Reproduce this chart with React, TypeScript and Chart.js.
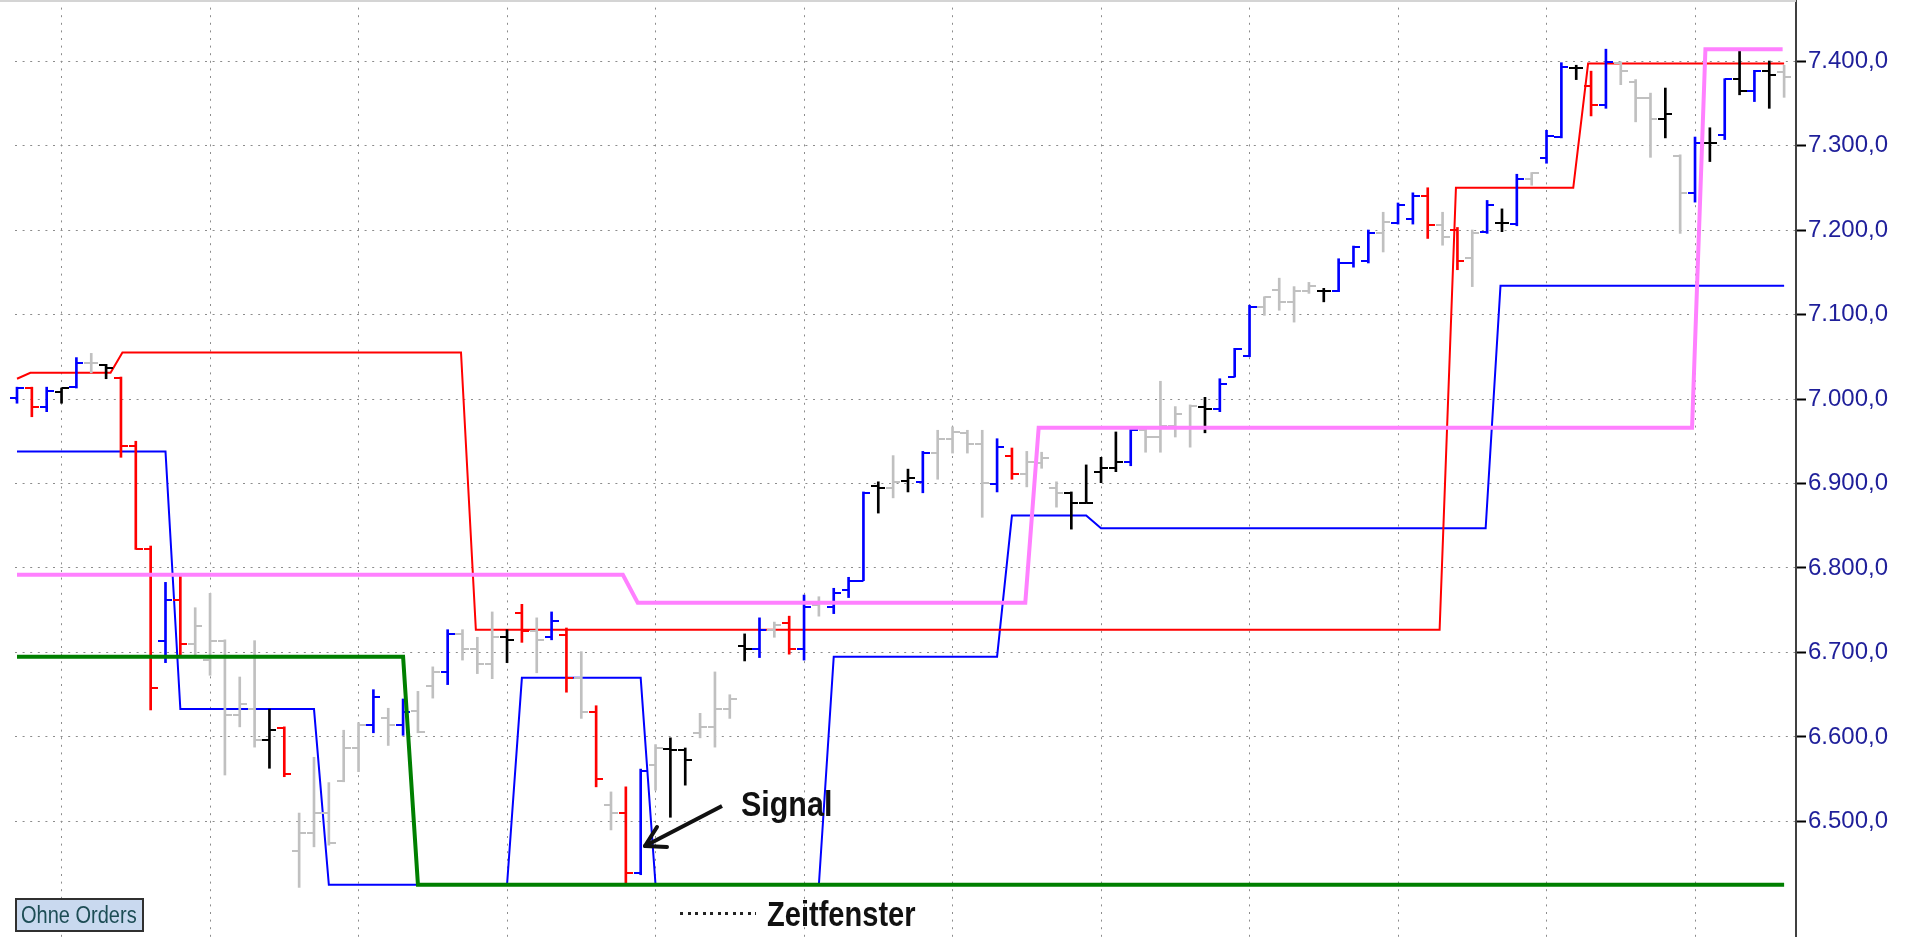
import React, { useEffect, useRef } from 'react';
import { Chart, registerables } from 'chart.js';

Chart.register(...registerables);

// ---- OHLC data (one entry per bar) ----
// colour codes: b = blue, r = red, k = black, g = light grey
const barColorCodes = [
  'b','r','b','k','b','g','k','r','r','r',
  'b','r','g','g','g','g','g','k','r','g',
  'g','g','g','g','b','g','b','g','g','b',
  'g','g','g','k','r','g','b','r','g','r',
  'g','r','b','g','k','k','g','g','g','k',
  'b','g','r','b','g','b','b','b','k','g',
  'k','b','g','g','g','g','b','r','g','g',
  'g','k','k','k','k','b','g','g','g','g',
  'k','b','b','b','g','g','g','g','k','b',
  'b','b','g','b','b','r','g','r','g','b',
  'k','b','g','b','b','k','r','b','g','g',
  'g','k','g','b','k','b','k','b','k','g',
];

const opens = [
  7001, 7013, 6991, 7008, 7014, 7043, 7040, 7025, 6944, 6822,
  6714, 6762, 6710, 6691, 6714, 6626, 6633, 6596, 6611, 6465,
  6486, 6510, 6548, 6587, 6614, 6622, 6614, 6631, 6660, 6677,
  6722, 6704, 6686, 6718, 6747, 6725, 6718, 6721, 6670, 6630,
  6520, 6510, 6439, 6567, 6586, 6585, 6605, 6612, 6633, 6708,
  6704, 6727, 6735, 6704, 6756, 6754, 6774, 6785, 6897, 6895,
  6903, 6902, 6936, 6953, 6960, 6947, 6899, 6933, 6911, 6924,
  6895, 6889, 6877, 6914, 6918, 6925, 6963, 6955, 6968, 6967,
  6991, 6988, 7026, 7051, 7109, 7129, 7115, 7128, 7128, 7128,
  7161, 7163, 7196, 7208, 7213, 7240, 7206, 7200, 7167, 7198,
  7208, 7207, 7260, 7285, 7310, 7392, 7370, 7348, 7398, 7375,
  7356, 7331, 7288, 7244, 7303, 7312, 7379, 7365, 7388, 7387,
];

const highs = [
  7014, 7014, 7014, 7013, 7049, 7054, 7041, 7026, 6950, 6826,
  6783, 6792, 6753, 6770, 6715, 6671, 6714, 6633, 6612, 6510,
  6576, 6546, 6608, 6617, 6656, 6634, 6645, 6654, 6683, 6727,
  6727, 6718, 6748, 6727, 6757, 6741, 6748, 6729, 6701, 6637,
  6535, 6541, 6562, 6591, 6599, 6587, 6628, 6677, 6650, 6722,
  6741, 6736, 6743, 6768, 6766, 6776, 6789, 6890, 6902, 6933,
  6917, 6938, 6963, 6967, 6963, 6963, 6953, 6942, 6938, 6937,
  6902, 6890, 6922, 6931, 6961, 6967, 6965, 7021, 6991, 6993,
  7002, 7024, 7060, 7111, 7121, 7143, 7133, 7138, 7131, 7166,
  7181, 7200, 7221, 7232, 7244, 7250, 7221, 7203, 7200, 7235,
  7225, 7266, 7268, 7318, 7398, 7395, 7388, 7414, 7399, 7378,
  7362, 7368, 7289, 7310, 7321, 7379, 7414, 7389, 7400, 7395,
];

const lows = [
  6995, 6979, 6985, 6995, 7013, 7031, 7024, 6931, 6822, 6632,
  6688, 6695, 6694, 6673, 6555, 6612, 6588, 6563, 6553, 6422,
  6470, 6472, 6547, 6559, 6605, 6590, 6602, 6605, 6646, 6662,
  6691, 6675, 6669, 6688, 6712, 6676, 6715, 6653, 6622, 6541,
  6490, 6425, 6437, 6537, 6505, 6543, 6599, 6588, 6622, 6690,
  6694, 6718, 6698, 6691, 6743, 6746, 6765, 6785, 6865, 6883,
  6890, 6889, 6905, 6936, 6936, 6860, 6890, 6905, 6896, 6918,
  6872, 6846, 6877, 6901, 6914, 6921, 6937, 6937, 6955, 6943,
  6960, 6985, 7026, 7050, 7099, 7105, 7091, 7125, 7115, 7127,
  7156, 7161, 7174, 7207, 7207, 7190, 7182, 7153, 7133, 7196,
  7198, 7205, 7253, 7279, 7309, 7378, 7335, 7344, 7372, 7328,
  7286, 7309, 7196, 7233, 7281, 7307, 7360, 7352, 7344, 7357,
];

const closes = [
  7013, 6991, 7009, 7013, 7043, 7043, 7037, 6944, 6822, 6658,
  6762, 6710, 6731, 6714, 6626, 6639, 6596, 6608, 6556, 6486,
  6510, 6475, 6587, 6614, 6647, 6614, 6630, 6606, 6677, 6722,
  6704, 6686, 6718, 6715, 6725, 6715, 6737, 6670, 6630, 6550,
  6510, 6439, 6560, 6587, 6585, 6573, 6612, 6633, 6645, 6704,
  6727, 6733, 6704, 6754, 6759, 6770, 6785, 6889, 6895, 6902,
  6907, 6936, 6953, 6961, 6947, 6901, 6943, 6911, 6925, 6930,
  6889, 6877, 6877, 6918, 6925, 6963, 6955, 6968, 6982, 6992,
  6988, 7018, 7059, 7109, 7121, 7115, 7128, 7134, 7128, 7161,
  7180, 7196, 7209, 7230, 7240, 7206, 7192, 7163, 7196, 7230,
  7208, 7260, 7268, 7311, 7393, 7392, 7348, 7399, 7388, 7356,
  7331, 7337, 7244, 7303, 7303, 7379, 7365, 7388, 7383, 7381,
];

// ---- indicator lines (breakpoints: bar index, value) ----
const redLineX = [0, 0.9, 6.3, 7.1, 29.9, 30.9, 95.8, 96.9, 104.8, 105.8, 119];
const redLineY = [7024, 7031, 7031, 7055, 7055, 6727, 6727, 7250, 7250, 7397, 7397];

const blueLineX = [0, 10, 11, 20, 21, 33, 34, 42, 43, 54, 55, 66, 67, 72, 73, 98.9, 99.9, 119];
const blueLineY = [6938, 6938, 6633, 6633, 6425, 6425, 6670, 6670, 6425, 6425, 6695, 6695, 6862, 6862, 6847, 6847, 7134, 7134];

const pinkLineX = [0, 40.8, 41.8, 67.9, 68.8, 112.8, 113.7, 118.9];
const pinkLineY = [6792, 6792, 6759, 6759, 6966, 6966, 7414, 7414];

const greenLineX = [0, 26, 27, 119];
const greenLineY = [6695, 6695, 6425, 6425];

// ---- axes ----
const yTickValues = [6500, 6600, 6700, 6800, 6900, 7000, 7100, 7200, 7300, 7400];
const xGridIndex = [3, 13, 23, 33, 43, 53, 63, 73, 83, 93, 103, 113];
const yMin = 6363.3;
const yMax = 7472.2;
const xMin = -0.1347;
const xMax = 119.8;

const colorMap: Record<string, string> = {
  b: '#0000ff',
  r: '#ff0000',
  k: '#000000',
  g: '#c0c0c0',
};

function formatPrice(v: number): string {
  const s = String(Math.round(v));
  return s.slice(0, -3) + '.' + s.slice(-3) + ',0';
}

function makeTick(color: string, side: 'left' | 'right'): HTMLCanvasElement {
  const L = 7;
  const c = document.createElement('canvas');
  c.width = L * 2;
  c.height = 2;
  const ctx = c.getContext('2d')!;
  ctx.fillStyle = color;
  ctx.fillRect(side === 'left' ? 0 : L, 0, L, 2);
  return c;
}

const toPts = (xs: number[], ys: number[]) => xs.map((x, i) => ({ x, y: ys[i] }));

export default function App() {
  const ref = useRef<HTMLCanvasElement>(null);

  useEffect(() => {
    const canvas = ref.current;
    if (!canvas) return;
    const leftImgs: Record<string, HTMLCanvasElement> = {};
    const rightImgs: Record<string, HTMLCanvasElement> = {};
    Object.keys(colorMap).forEach((k) => {
      leftImgs[k] = makeTick(colorMap[k], 'left');
      rightImgs[k] = makeTick(colorMap[k], 'right');
    });
    const idx = opens.map((_, i) => i);
    const barColors = barColorCodes.map((c) => colorMap[c]);

    const chart = new Chart(canvas, {
      type: 'scatter',
      data: {
        datasets: [
          {
            type: 'line',
            label: 'pink',
            data: toPts(pinkLineX, pinkLineY),
            borderColor: '#ff80ff',
            borderWidth: 4,
            pointRadius: 0,
            showLine: true,
            tension: 0,
            order: 0,
          } as any,
          {
            type: 'line',
            label: 'green',
            data: toPts(greenLineX, greenLineY),
            borderColor: '#007f00',
            borderWidth: 4,
            pointRadius: 0,
            showLine: true,
            tension: 0,
            order: 1,
          } as any,
          {
            type: 'bar',
            label: 'hl',
            data: idx.map((i) => ({ x: i, y: [lows[i], highs[i]] })),
            backgroundColor: barColors,
            borderWidth: 0,
            barThickness: 2,
            order: 2,
          } as any,
          {
            type: 'scatter',
            label: 'open',
            data: idx.map((i) => ({ x: i, y: opens[i] })),
            pointStyle: barColorCodes.map((c) => leftImgs[c]),
            pointRadius: 7,
            clip: false,
            order: 2,
          } as any,
          {
            type: 'scatter',
            label: 'close',
            data: idx.map((i) => ({ x: i, y: closes[i] })),
            pointStyle: barColorCodes.map((c) => rightImgs[c]),
            pointRadius: 7,
            clip: false,
            order: 2,
          } as any,
          {
            type: 'line',
            label: 'red',
            data: toPts(redLineX, redLineY),
            borderColor: '#ff0000',
            borderWidth: 2,
            pointRadius: 0,
            showLine: true,
            tension: 0,
            order: 4,
          } as any,
          {
            type: 'line',
            label: 'blue',
            data: toPts(blueLineX, blueLineY),
            borderColor: '#0000ff',
            borderWidth: 2,
            pointRadius: 0,
            showLine: true,
            tension: 0,
            order: 5,
          } as any,
        ],
      },
      options: {
        responsive: false,
        devicePixelRatio: 1,
        animation: false,
        events: [],
        layout: { autoPadding: false, padding: { left: 15, right: 0, top: 0, bottom: 0 } },
        plugins: { legend: { display: false }, tooltip: { enabled: false } },
        scales: {
          x: {
            type: 'linear',
            min: xMin,
            max: xMax,
            offset: false,
            afterBuildTicks: (s: any) => {
              s.ticks = xGridIndex.map((v) => ({ value: v }));
            },
            afterFit: (s: any) => {
              s.height = 0;
              s.paddingLeft = 0;
              s.paddingRight = 0;
              s.paddingTop = 0;
              s.paddingBottom = 0;
            },
            grid: { color: '#8c8c8c', lineWidth: 1, drawTicks: false, offset: false },
            border: { display: false, dash: [2, 5.6] },
            ticks: { display: false },
          },
          y: {
            type: 'linear',
            position: 'right',
            min: yMin,
            max: yMax,
            offset: false,
            afterBuildTicks: (s: any) => {
              s.ticks = yTickValues.map((v) => ({ value: v }));
            },
            afterFit: (s: any) => {
              s.width = 115;
              s.paddingTop = 0;
              s.paddingBottom = 0;
              s.paddingLeft = 0;
              s.paddingRight = 0;
            },
            grid: {
              color: '#8c8c8c',
              lineWidth: 1,
              drawTicks: true,
              tickLength: 10,
              tickColor: '#000000',
              tickWidth: 2,
              offset: false,
            },
            border: { display: true, color: '#404040', width: 2, dash: [2, 5.6] },
            ticks: {
              padding: 2,
              color: '#1f1f9a',
              font: { family: '"Liberation Sans", Arial, sans-serif', size: 24 },
              callback: (v: any) => formatPrice(Number(v)),
            },
          },
        },
      } as any,
    });
    return () => chart.destroy();
  }, []);

  return (
    <div
      style={{
        position: 'absolute',
        left: 0,
        top: 0,
        width: 1911,
        height: 937,
        background: '#ffffff',
        overflow: 'hidden',
      }}
    >
      <canvas
        ref={ref}
        width={1911}
        height={937}
        style={{ position: 'absolute', left: 0, top: 0, width: 1911, height: 937 }}
      />
      <div style={{ position: 'absolute', left: 0, top: 0, width: 1796, height: 2, background: '#d4d4d4' }} />
      <svg
        width={1911}
        height={937}
        style={{ position: 'absolute', left: 0, top: 0, pointerEvents: 'none' }}
      >
        <line x1={722} y1={806} x2={645} y2={846} stroke="#111" strokeWidth={4} />
        <line x1={645} y1={846} x2={667} y2={847} stroke="#111" strokeWidth={4} strokeLinecap="round" />
        <line x1={645} y1={846} x2={657} y2={827} stroke="#111" strokeWidth={4} strokeLinecap="round" />
      </svg>
      <div
        style={{
          position: 'absolute',
          left: 741,
          top: 786,
          fontFamily: '"Liberation Sans", Arial, sans-serif',
          fontWeight: 'bold',
          fontSize: 35,
          lineHeight: '35px',
          color: '#111',
          whiteSpace: 'nowrap',
          transform: 'scaleX(0.87)',
          transformOrigin: 'left top',
        }}
      >
        Signal
      </div>
      <div
        style={{
          position: 'absolute',
          left: 680,
          top: 912,
          width: 76,
          height: 3,
          background: 'repeating-linear-gradient(to right, #222 0px, #222 3px, transparent 3px, transparent 7.5px)',
        }}
      />
      <div
        style={{
          position: 'absolute',
          left: 767,
          top: 896,
          fontFamily: '"Liberation Sans", Arial, sans-serif',
          fontWeight: 'bold',
          fontSize: 35,
          lineHeight: '35px',
          color: '#111',
          whiteSpace: 'nowrap',
          transform: 'scaleX(0.83)',
          transformOrigin: 'left top',
        }}
      >
        Zeitfenster
      </div>
      <div
        style={{
          position: 'absolute',
          left: 15,
          top: 898,
          width: 129,
          height: 34,
          boxSizing: 'border-box',
          border: '2px solid #303030',
          background: '#c9d9ef',
          overflow: 'hidden',
        }}
      >
        <span
          style={{
            position: 'absolute',
            left: 4,
            top: 2,
            fontFamily: '"Liberation Sans", Arial, sans-serif',
            fontSize: 23,
            lineHeight: '27px',
            color: '#1d4d55',
            whiteSpace: 'nowrap',
            transform: 'scaleX(0.87)',
            transformOrigin: 'left top',
          }}
        >
          Ohne Orders
        </span>
      </div>
    </div>
  );
}
